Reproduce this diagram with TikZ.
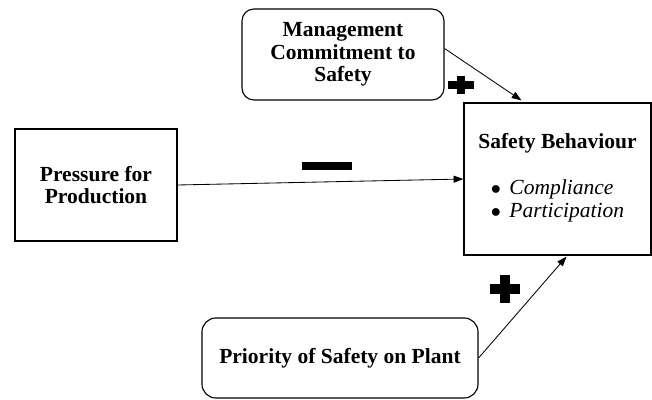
\documentclass[tikz,border=0pt]{standalone}
\usepackage{fontspec}
\setmainfont{Liberation Serif}
\usetikzlibrary{arrows.meta,calc}
\tikzset{
  factor/.style={draw,line width=0.8pt,align=center,inner sep=0pt,
    font=\fontsize{15.3}{16}\selectfont\bfseries},
  link/.style={-{Triangle[length=7pt,width=5pt]},line width=0.6pt},
}
\begin{document}
\begin{tikzpicture}[x=0.025cm,y=-0.025cm]
  \useasboundingbox (0,0) rectangle (652,400);
  \node[factor,rounded corners=0.3cm,minimum width=5.05cm,minimum height=2.275cm] (mgmt) at (343,54.5) {Management\\Commitment to\\Safety};
  \node[factor,minimum width=4.05cm,minimum height=2.8cm] (press) at (96,185) {Pressure for\\Production};
  \node[factor,minimum width=4.675cm,minimum height=3.8cm] (safety) at (557.5,179) {Safety Behaviour\\[16.7pt]{\mdseries\begin{tabular}[t]{@{}l@{}}$\bullet$\hspace{6pt}\textit{Compliance}\\$\bullet$\hspace{6pt}\textit{Participation}\end{tabular}}};
  \node[factor,rounded corners=0.35cm,minimum width=6.9cm,minimum height=2cm] (prio) at (340,358) {Priority of Safety on Plant};
  \draw[link] ($(mgmt.east)+(0,-6)$) -- ($(safety.north)+(-36,-2)$);
  \draw[link] (press.east) -- (safety.west);
  \draw[link] (prio.east) -- ($(safety.south)+(9,1)$);
  \fill (448,81) rectangle (474,89);
  \fill (457,76) rectangle (465,94);
  \fill (302,162) rectangle (352,170);
  \fill (490,284) rectangle (520,294);
  \fill (500,275) rectangle (510,303);
\end{tikzpicture}
\end{document}
